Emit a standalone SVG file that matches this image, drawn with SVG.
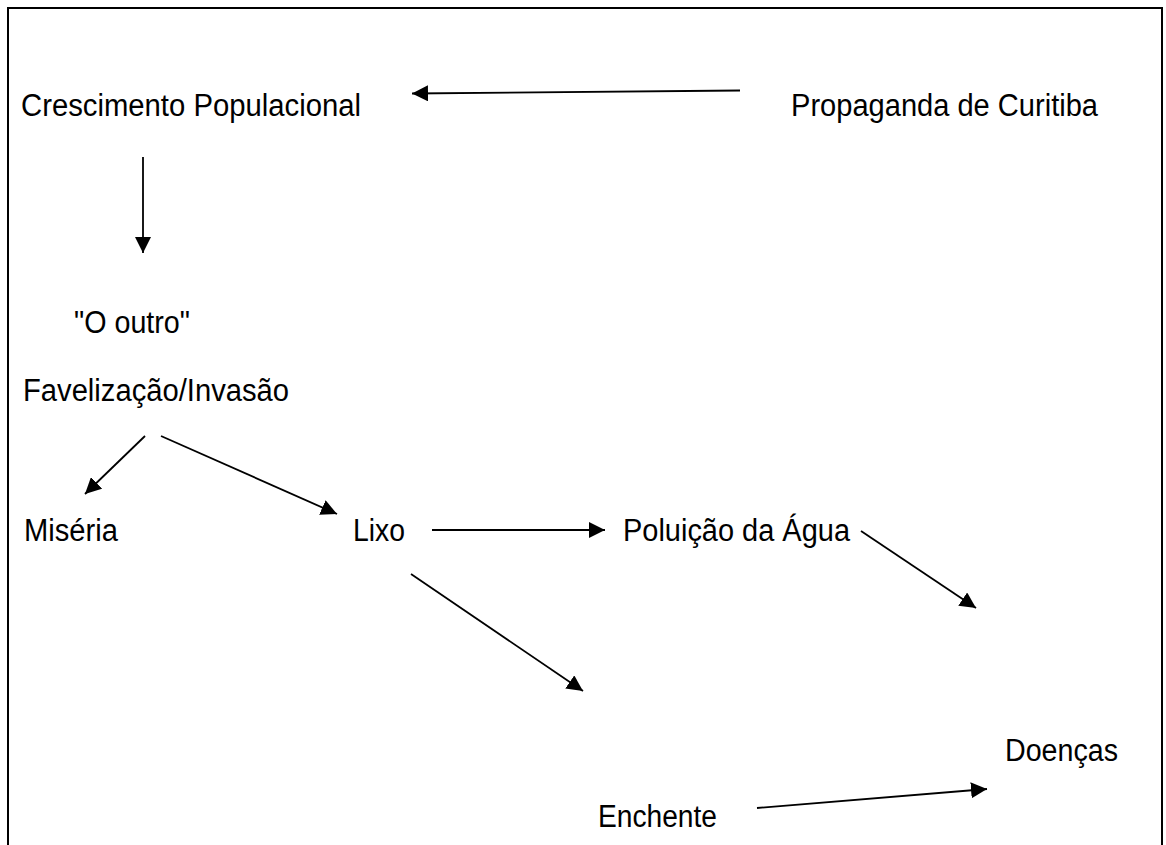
<svg xmlns="http://www.w3.org/2000/svg" width="1166" height="845" viewBox="0 0 1166 845">
<style>
.t{font-family:"Liberation Sans",Arial,sans-serif;font-size:31px;fill:#000}
.c{stroke:#000;stroke-width:1.8;fill:none;marker-end:url(#ah)}
</style>
<defs>
<marker id="ah" viewBox="0 0 16 16" refX="16" refY="8" markerWidth="16" markerHeight="16" markerUnits="userSpaceOnUse" orient="auto">
<path d="M0,0 L16,8 L0,16 Z" fill="#000"/>
</marker>
</defs>
<rect width="1166" height="845" fill="#fff"/>
<path d="M8,845 V8 H1162 V845" fill="none" stroke="#000" stroke-width="2"/>
<g id="crescimento"><text class="t" x="21" y="116" textLength="340" lengthAdjust="spacingAndGlyphs">Crescimento Populacional</text></g>
<g id="propaganda"><text class="t" x="791" y="116" textLength="307" lengthAdjust="spacingAndGlyphs">Propaganda de Curitiba</text></g>
<g id="outro"><text class="t" x="74" y="333" textLength="116" lengthAdjust="spacingAndGlyphs">"O outro"</text></g>
<g id="favelizacao"><text class="t" x="23" y="401" textLength="266" lengthAdjust="spacingAndGlyphs">Favelização/Invasão</text></g>
<g id="miseria"><text class="t" x="24" y="541" textLength="94" lengthAdjust="spacingAndGlyphs">Miséria</text></g>
<g id="lixo"><text class="t" x="353" y="541" textLength="52" lengthAdjust="spacingAndGlyphs">Lixo</text></g>
<g id="poluicao"><text class="t" x="623" y="541" textLength="227" lengthAdjust="spacingAndGlyphs">Poluição da Água</text></g>
<g id="doencas"><text class="t" x="1005" y="761" textLength="113" lengthAdjust="spacingAndGlyphs">Doenças</text></g>
<g id="enchente"><text class="t" x="598" y="827" textLength="119" lengthAdjust="spacingAndGlyphs">Enchente</text></g>
<g id="connectors">
<line class="c" x1="740" y1="90.5" x2="412" y2="93.5"/>
<line class="c" x1="143" y1="157" x2="143" y2="253"/>
<line class="c" x1="145" y1="436" x2="85" y2="494"/>
<line class="c" x1="161" y1="436" x2="337" y2="514"/>
<line class="c" x1="432" y1="530" x2="605" y2="530"/>
<line class="c" x1="861" y1="531" x2="976" y2="608"/>
<line class="c" x1="411" y1="574" x2="583" y2="691"/>
<line class="c" x1="757" y1="808" x2="987" y2="789"/>
</g>
</svg>
